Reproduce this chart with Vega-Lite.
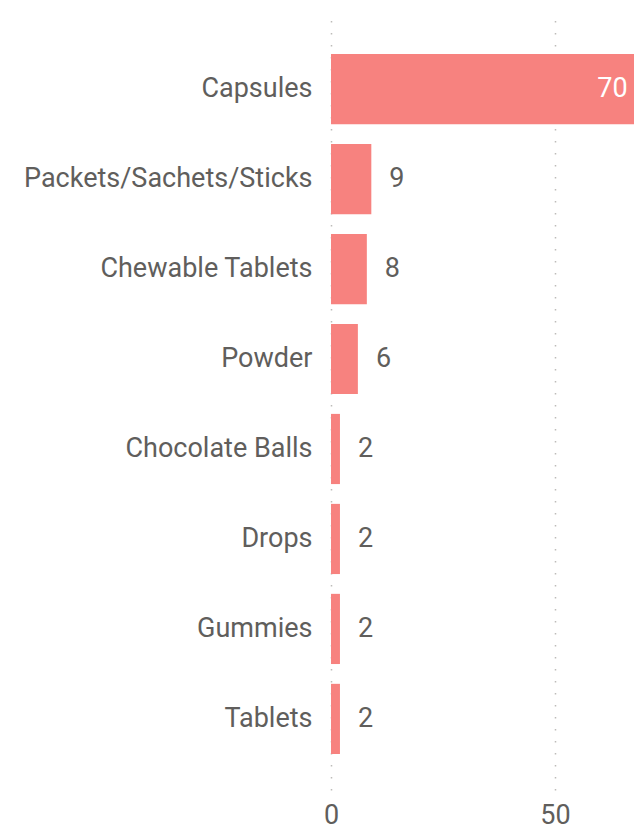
{
  "$schema": "https://vega.github.io/schema/vega-lite/v6.json",
  "autosize": {"type": "none"},
  "padding": {"left": 331, "top": 18, "right": 0, "bottom": 39},
  "width": 336,
  "height": 772,
  "background": "white",
  "config": {"view": {"stroke": null}, "font": "Roboto"},
  "data": {"values": [
    {"form": "Capsules", "count": 70},
    {"form": "Packets/Sachets/Sticks", "count": 9},
    {"form": "Chewable Tablets", "count": 8},
    {"form": "Powder", "count": 6},
    {"form": "Chocolate Balls", "count": 2},
    {"form": "Drops", "count": 2},
    {"form": "Gummies", "count": 2},
    {"form": "Tablets", "count": 2}
  ]},
  "encoding": {
    "y": {"field": "form", "type": "nominal", "sort": null,
      "scale": {"paddingInner": 0.22, "paddingOuter": 0.4},
      "axis": {"title": null, "domain": false, "ticks": false, "labelPadding": 19, "labelFontSize": 27, "labelColor": "#605E5C", "labelFont": "Roboto", "labelLimit": 400}},
    "x": {"field": "count", "type": "quantitative",
      "scale": {"domain": [0, 75], "nice": false},
      "axis": {"title": null, "domain": false, "ticks": false, "values": [0, 50], "labelFlush": false, "labelFontSize": 27, "labelColor": "#605E5C", "labelPadding": 12, "labelFont": "Roboto", "gridColor": "#BDBBB9", "gridDash": [1.5, 10.5], "gridWidth": 1.5}}
  },
  "layer": [
    {"mark": {"type": "bar", "color": "#F7827F"}},
    {"transform": [{"filter": "datum.count < 50"}],
     "mark": {"type": "text", "align": "left", "dx": 18, "fontSize": 27, "color": "#605E5C", "font": "Roboto"},
     "encoding": {"text": {"field": "count"}}},
    {"transform": [{"filter": "datum.count >= 50"}],
     "mark": {"type": "text", "align": "right", "dx": -17, "fontSize": 27, "color": "white", "font": "Roboto"},
     "encoding": {"text": {"field": "count"}}}
  ]
}
